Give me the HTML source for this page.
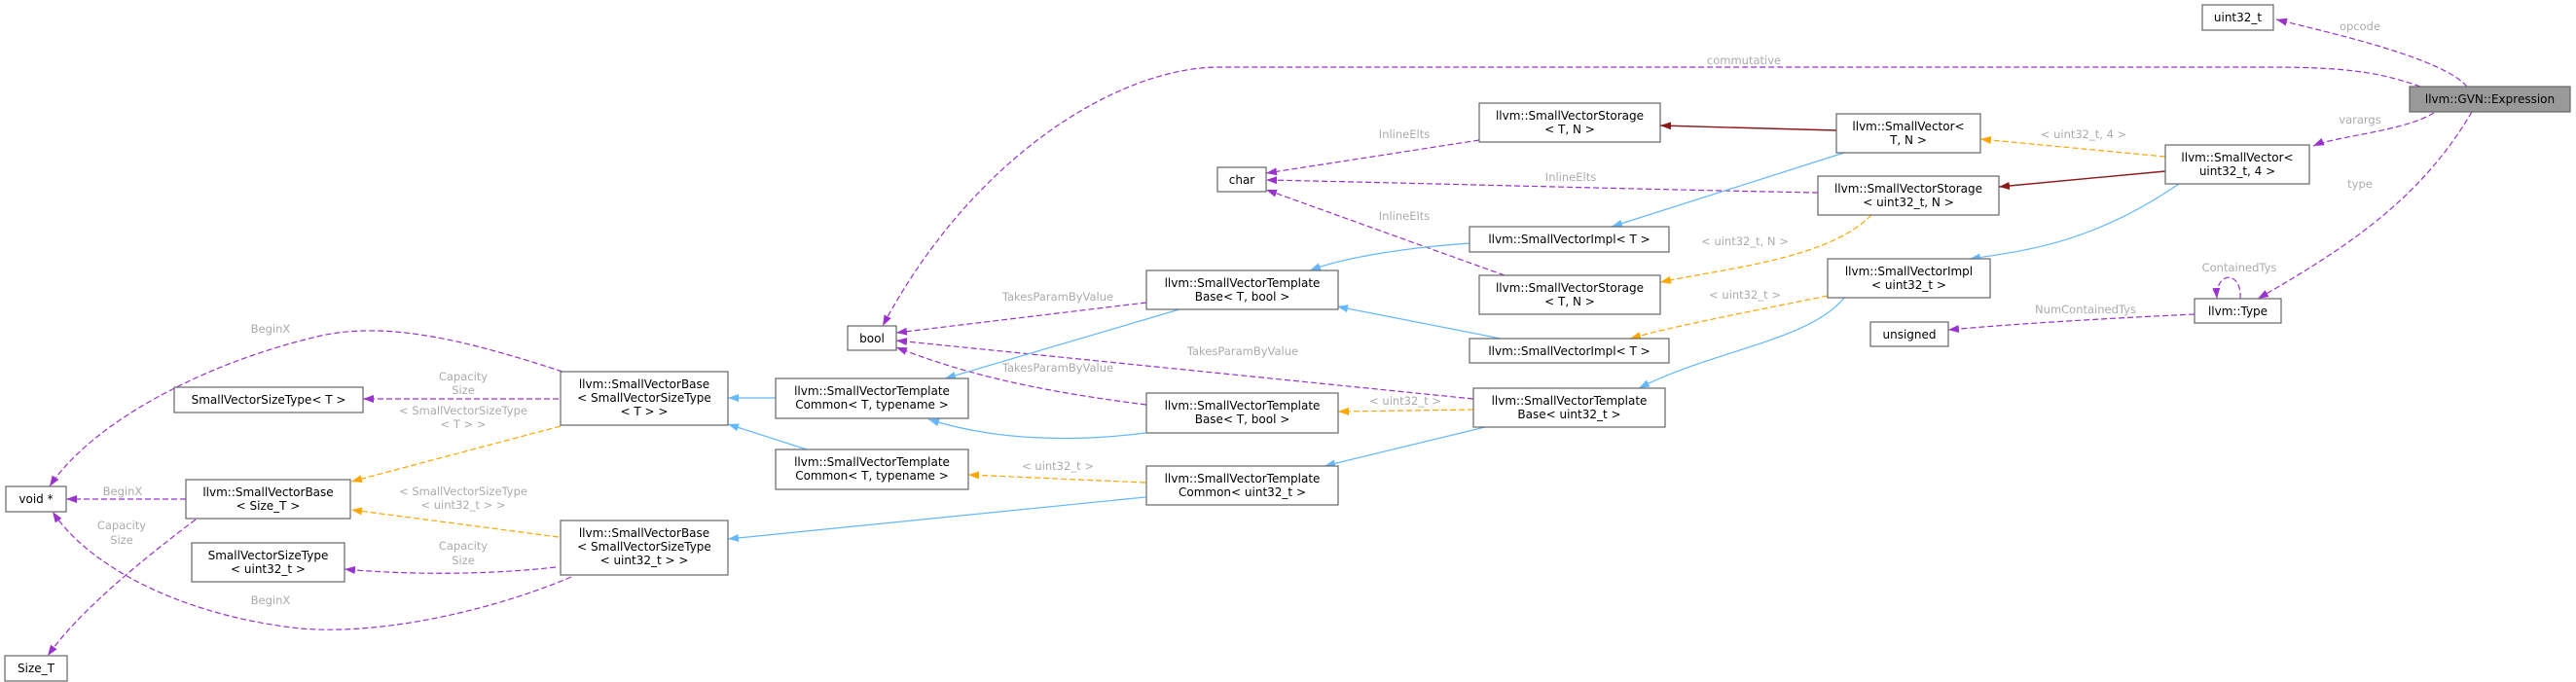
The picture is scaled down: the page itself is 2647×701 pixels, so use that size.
<!DOCTYPE html>
<html><head><meta charset="utf-8"><style>
html,body{margin:0;padding:0;background:#fff;}
svg{display:block;}
.n rect{fill:#fff;stroke:#666;stroke-width:1.2;}
.n text{font-family:"DejaVu Sans","Liberation Sans",sans-serif;font-size:12px;fill:#000;text-anchor:middle;}
.l{font-family:"DejaVu Sans","Liberation Sans",sans-serif;font-size:11.5px;fill:#ababab;text-anchor:middle;}
.p{fill:none;stroke:#9a32cd;stroke-width:1.2;stroke-dasharray:6,3;}
.o{fill:none;stroke:#ffa500;stroke-width:1.2;stroke-dasharray:6,3;}
.r{fill:none;stroke:#8b1a1a;stroke-width:1.4;}
.b{fill:none;stroke:#63b8ff;stroke-width:1.2;}
</style></head><body>
<svg width="2647" height="701" viewBox="0 0 2647 701" xmlns="http://www.w3.org/2000/svg">
<defs>
<marker id="mp" markerUnits="userSpaceOnUse" markerWidth="11" markerHeight="8" refX="11" refY="4" orient="auto"><path d="M0,0 L11,4 L0,8 z" fill="#9a32cd"/></marker>
<marker id="mo" markerUnits="userSpaceOnUse" markerWidth="11" markerHeight="8" refX="11" refY="4" orient="auto"><path d="M0,0 L11,4 L0,8 z" fill="#ffa500"/></marker>
<marker id="mr" markerUnits="userSpaceOnUse" markerWidth="11" markerHeight="8" refX="11" refY="4" orient="auto"><path d="M0,0 L11,4 L0,8 z" fill="#8b1a1a"/></marker>
<marker id="mb" markerUnits="userSpaceOnUse" markerWidth="11" markerHeight="8" refX="11" refY="4" orient="auto"><path d="M0,0 L11,4 L0,8 z" fill="#63b8ff"/></marker>
</defs>

<path class="p" marker-end="url(#mp)" d="M2487,89 C2440,72 2400,69 2325,69 L1253,69 C1150,69 1000,160 907,335"/>
<path class="p" marker-end="url(#mp)" d="M2535,89 C2510,60 2400,35 2339,20"/>
<path class="p" marker-end="url(#mp)" d="M2501,116 C2470,135 2400,140 2377,150"/>
<path class="p" marker-end="url(#mp)" d="M2540,115 C2490,200 2420,250 2320,307"/>
<path class="p" marker-end="url(#mp)" d="M2302,307 C2304,278 2276,278 2278,307"/>
<path class="p" marker-end="url(#mp)" d="M2255,323 C2150,328 2070,333 2002,339"/>
<path class="p" marker-end="url(#mp)" d="M1520,144 L1301,178"/>
<path class="p" marker-end="url(#mp)" d="M1868,198 C1700,195 1450,188 1301,185"/>
<path class="p" marker-end="url(#mp)" d="M1546,283 L1301,195"/>
<path class="p" marker-end="url(#mp)" d="M1178,311 L921,342"/>
<path class="p" marker-end="url(#mp)" d="M1514,410 L921,350"/>
<path class="p" marker-end="url(#mp)" d="M1178,416 C1050,400 980,380 921,357"/>
<path class="p" marker-end="url(#mp)" d="M578,382 C480,350 400,330 330,345 C200,375 90,440 51,500"/>
<path class="p" marker-end="url(#mp)" d="M574,410 L373,410"/>
<path class="p" marker-end="url(#mp)" d="M191,513 L68,513"/>
<path class="p" marker-end="url(#mp)" d="M201,534 C140,580 80,630 49,674"/>
<path class="p" marker-end="url(#mp)" d="M571,583 C500,591 420,591 354,585"/>
<path class="p" marker-end="url(#mp)" d="M587,593 C500,630 380,655 300,645 C180,630 90,580 54,526"/>

<path class="o" marker-end="url(#mo)" d="M2225,161 L2035,143"/>
<path class="o" marker-end="url(#mo)" d="M1923,221 C1880,265 1780,275 1706,290"/>
<path class="o" marker-end="url(#mo)" d="M1878,304 C1800,320 1720,335 1675,348"/>
<path class="o" marker-end="url(#mo)" d="M1514,421 L1375,423"/>
<path class="o" marker-end="url(#mo)" d="M1177,496 L995,488"/>
<path class="o" marker-end="url(#mo)" d="M576,438 L361,495"/>
<path class="o" marker-end="url(#mo)" d="M574,552 L361,524"/>

<path class="r" marker-end="url(#mr)" d="M1887,134 L1706,129"/>
<path class="r" marker-end="url(#mr)" d="M2225,176 L2054,192"/>

<path class="b" marker-end="url(#mb)" d="M1895,157 L1656,233"/>
<path class="b" marker-end="url(#mb)" d="M2239,189 C2150,250 2080,258 2024,266"/>
<path class="b" marker-end="url(#mb)" d="M1510,250 C1440,255 1380,265 1346,278"/>
<path class="b" marker-end="url(#mb)" d="M1542,348 L1374,315"/>
<path class="b" marker-end="url(#mb)" d="M1895,306 C1860,350 1760,360 1684,399"/>
<path class="b" marker-end="url(#mb)" d="M1526,439 L1361,479"/>
<path class="b" marker-end="url(#mb)" d="M1212,318 L971,389"/>
<path class="b" marker-end="url(#mb)" d="M1177,445 C1100,455 1020,452 954,431"/>
<path class="b" marker-end="url(#mb)" d="M797,409 L748,409"/>
<path class="b" marker-end="url(#mb)" d="M829,462 L748,436"/>
<path class="b" marker-end="url(#mb)" d="M1177,511 L748,554"/>

<text class="l" x="1792" y="66">commutative</text>
<text class="l" x="2425" y="31">opcode</text>
<text class="l" x="2425" y="127">varargs</text>
<text class="l" x="2425" y="193">type</text>
<text class="l" x="2301" y="279">ContainedTys</text>
<text class="l" x="2143" y="322">NumContainedTys</text>
<text class="l" x="2141" y="142">&lt; uint32_t, 4 &gt;</text>
<text class="l" x="1443" y="142">InlineElts</text>
<text class="l" x="1614" y="186">InlineElts</text>
<text class="l" x="1443" y="226">InlineElts</text>
<text class="l" x="1793" y="252">&lt; uint32_t, N &gt;</text>
<text class="l" x="1793" y="307">&lt; uint32_t &gt;</text>
<text class="l" x="1444" y="416">&lt; uint32_t &gt;</text>
<text class="l" x="1087" y="483">&lt; uint32_t &gt;</text>
<text class="l" x="1087" y="309">TakesParamByValue</text>
<text class="l" x="1277" y="365">TakesParamByValue</text>
<text class="l" x="1087" y="382">TakesParamByValue</text>
<text class="l" x="278" y="342">BeginX</text>
<text class="l" x="476" y="391">Capacity</text>
<text class="l" x="476" y="405">Size</text>
<text class="l" x="476" y="426">&lt; SmallVectorSizeType</text>
<text class="l" x="476" y="440">&lt; T &gt; &gt;</text>
<text class="l" x="126" y="509">BeginX</text>
<text class="l" x="476" y="509">&lt; SmallVectorSizeType</text>
<text class="l" x="476" y="523">&lt; uint32_t &gt; &gt;</text>
<text class="l" x="125" y="544">Capacity</text>
<text class="l" x="125" y="559">Size</text>
<text class="l" x="476" y="565">Capacity</text>
<text class="l" x="476" y="580">Size</text>
<text class="l" x="278" y="621">BeginX</text>

<g class="n">
<rect x="2263" y="5" width="73" height="26"/><text x="2299.5" y="22">uint32_t</text>
<rect x="2476" y="89" width="165" height="26" style="fill:#999"/><text x="2558.5" y="106">llvm::GVN::Expression</text>
<rect x="2225" y="149" width="148" height="40"/><text x="2299" y="166">llvm::SmallVector&lt;</text><text x="2299" y="180">uint32_t, 4 &gt;</text>
<rect x="1887" y="117" width="148" height="40"/><text x="1961" y="134">llvm::SmallVector&lt;</text><text x="1961" y="148">T, N &gt;</text>
<rect x="1520" y="106" width="186" height="40"/><text x="1613" y="123">llvm::SmallVectorStorage</text><text x="1613" y="137">&lt; T, N &gt;</text>
<rect x="1251" y="172" width="50" height="25"/><text x="1276" y="189">char</text>
<rect x="1868" y="181" width="186" height="40"/><text x="1961" y="198">llvm::SmallVectorStorage</text><text x="1961" y="212">&lt; uint32_t, N &gt;</text>
<rect x="1510" y="233" width="205" height="26"/><text x="1612.5" y="250">llvm::SmallVectorImpl&lt; T &gt;</text>
<rect x="1178" y="278" width="197" height="40"/><text x="1276.5" y="295">llvm::SmallVectorTemplate</text><text x="1276.5" y="309">Base&lt; T, bool &gt;</text>
<rect x="1520" y="283" width="186" height="40"/><text x="1613" y="300">llvm::SmallVectorStorage</text><text x="1613" y="314">&lt; T, N &gt;</text>
<rect x="1878" y="266" width="167" height="40"/><text x="1961.5" y="283">llvm::SmallVectorImpl</text><text x="1961.5" y="297">&lt; uint32_t &gt;</text>
<rect x="871" y="335" width="50" height="25"/><text x="896" y="352">bool</text>
<rect x="1510" y="348" width="205" height="25"/><text x="1612.5" y="365">llvm::SmallVectorImpl&lt; T &gt;</text>
<rect x="1922" y="331" width="80" height="25"/><text x="1962" y="348">unsigned</text>
<rect x="2255" y="307" width="89" height="25"/><text x="2299.5" y="324">llvm::Type</text>
<rect x="179" y="398" width="194" height="26"/><text x="276" y="415">SmallVectorSizeType&lt; T &gt;</text>
<rect x="576" y="382" width="172" height="55"/><text x="662" y="399">llvm::SmallVectorBase</text><text x="662" y="413">&lt; SmallVectorSizeType</text><text x="662" y="427">&lt; T &gt; &gt;</text>
<rect x="797" y="389" width="198" height="41"/><text x="896" y="406">llvm::SmallVectorTemplate</text><text x="896" y="420">Common&lt; T, typename &gt;</text>
<rect x="1178" y="404" width="197" height="41"/><text x="1276.5" y="421">llvm::SmallVectorTemplate</text><text x="1276.5" y="435">Base&lt; T, bool &gt;</text>
<rect x="1514" y="399" width="197" height="40"/><text x="1612.5" y="416">llvm::SmallVectorTemplate</text><text x="1612.5" y="430">Base&lt; uint32_t &gt;</text>
<rect x="6" y="500" width="62" height="26"/><text x="37" y="517">void *</text>
<rect x="191" y="493" width="169" height="40"/><text x="275.5" y="510">llvm::SmallVectorBase</text><text x="275.5" y="524">&lt; Size_T &gt;</text>
<rect x="797" y="462" width="198" height="41"/><text x="896" y="479">llvm::SmallVectorTemplate</text><text x="896" y="493">Common&lt; T, typename &gt;</text>
<rect x="1178" y="479" width="197" height="40"/><text x="1276.5" y="496">llvm::SmallVectorTemplate</text><text x="1276.5" y="510">Common&lt; uint32_t &gt;</text>
<rect x="197" y="558" width="157" height="40"/><text x="275.5" y="575">SmallVectorSizeType</text><text x="275.5" y="589">&lt; uint32_t &gt;</text>
<rect x="576" y="535" width="172" height="56"/><text x="662" y="552">llvm::SmallVectorBase</text><text x="662" y="566">&lt; SmallVectorSizeType</text><text x="662" y="580">&lt; uint32_t &gt; &gt;</text>
<rect x="5" y="674" width="64" height="26"/><text x="37" y="691">Size_T</text>
</g>
</svg>
</body></html>
